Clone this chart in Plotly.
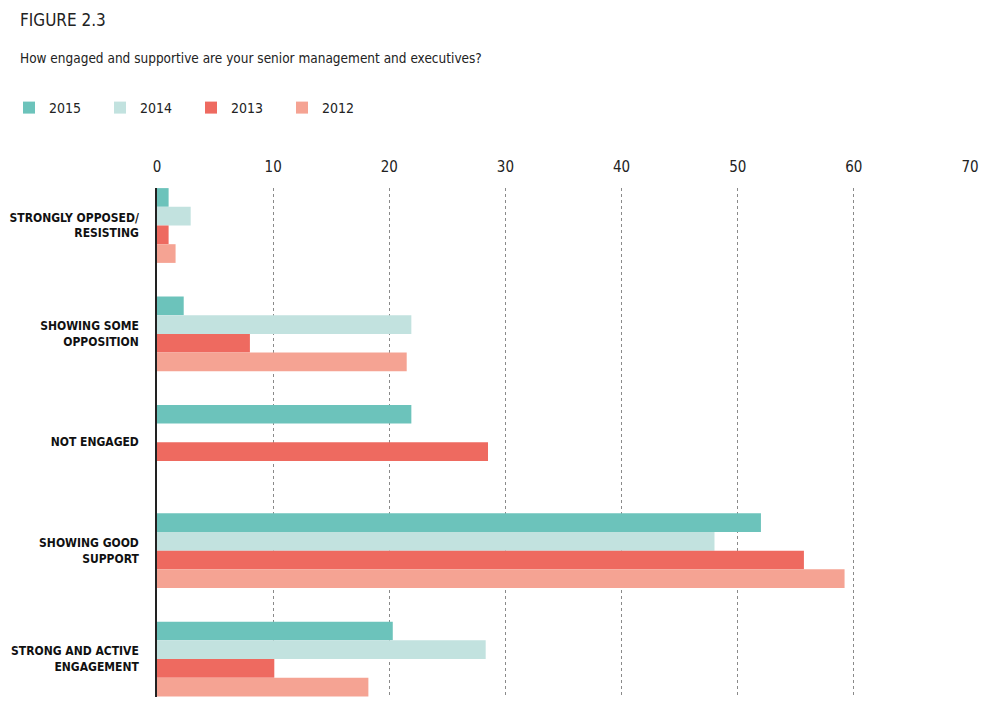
import plotly.graph_objects as go

categories = ["STRONGLY OPPOSED/<br>RESISTING", "SHOWING SOME<br>OPPOSITION", "NOT ENGAGED",
              "SHOWING GOOD<br>SUPPORT", "STRONG AND ACTIVE<br>ENGAGEMENT"]
years = ["2015", "2014", "2013", "2012"]
v2015 = [1.0, 2.3, 21.9, 52.0, 20.3]
v2014 = [2.9, 21.9, 0, 48.0, 28.3]
v2013 = [1.0, 8.0, 28.5, 55.7, 10.1]
v2012 = [1.6, 21.5, 0, 59.2, 18.2]
colors = ["#6cc3bb", "#c2e2df", "#ee6a60", "#f5a393"]
x_ticks = [0, 10, 20, 30, 40, 50, 60, 70]

FONT = "DejaVu Sans Condensed, Liberation Sans Narrow, Roboto Condensed, sans-serif"

fig = go.Figure()
for name, vals, col in zip(years, [v2015, v2014, v2013, v2012], colors):
    fig.add_trace(go.Bar(y=categories, x=vals, name=name, orientation="h",
                         marker=dict(color=col, line=dict(width=0))))

fig.update_layout(
    width=1000, height=714,
    margin=dict(l=157, r=30, t=188, b=17, autoexpand=False),
    plot_bgcolor="white", paper_bgcolor="white",
    barmode="group", bargap=0.31, bargroupgap=0,
    font=dict(family=FONT, color="#222"),
    legend=dict(orientation="h", xref="container", yref="container",
                x=0.009, y=1 - 92 / 714, xanchor="left", yanchor="top",
                font=dict(size=14, color="#222"), entrywidth=46, entrywidthmode="pixels",
                itemwidth=30, traceorder="normal"),
    xaxis=dict(side="top", range=[0, 70], tickvals=x_ticks, showgrid=True,
               gridcolor="#8a8a8a", griddash="dot", gridwidth=1, zeroline=False,
               tickfont=dict(size=15, color="#222"), ticks="", showline=False,
               ticklabelstandoff=12, automargin=False),
    yaxis=dict(range=[4.35, -0.346], showline=True, linecolor="#222", linewidth=1.5,
               ticks="", tickfont=dict(size=12, color="#111", family=FONT, weight="bold"),
               ticklabelstandoff=14, showgrid=False, automargin=False),
    annotations=[
        dict(text="FIGURE 2.3", xref="paper", yref="paper", x=(18 - 157) / 813,
             y=1 + (188 - 20) / 509, xanchor="left", yanchor="middle", showarrow=False,
             font=dict(size=17, color="#222")),
        dict(text="How engaged and supportive are your senior management and executives?",
             xref="paper", yref="paper", x=(18 - 157) / 813, y=1 + (188 - 58) / 509,
             xanchor="left", yanchor="middle", showarrow=False,
             font=dict(size=13.5, color="#222")),
    ],
)

fig.write_html("out.html")
